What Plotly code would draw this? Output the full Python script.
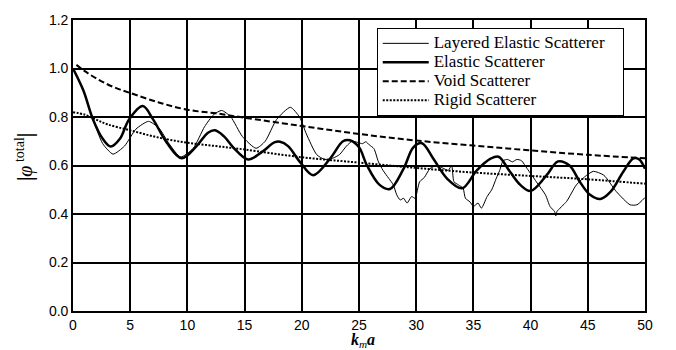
import plotly.graph_objects as go

# Normalised wave-field magnitude |phi_total| against k_m a for four scatterer types
layered_x = [0, 0.9, 1.75, 2.6, 3.5, 4.5, 5.5, 6.6, 7.5, 8.4, 9.4, 10.5, 11.5, 12.3, 13.0,
             13.8, 14.8, 16.0, 16.8, 17.8, 19.0, 19.8, 20.4, 21.3, 22.0, 22.7, 23.3, 23.9,
             24.4, 24.9, 25.3, 25.6, 25.9, 26.3, 26.7, 27.1, 27.6, 28.0, 28.3, 28.6, 28.9,
             29.2, 29.6, 29.9, 30.3, 30.7, 31.2, 31.8, 32.3, 32.8, 33.1, 33.3, 33.7, 34.1,
             34.3, 34.7, 35.0, 35.4, 35.7, 36.2, 36.6, 37.0, 37.3, 37.6, 38.0, 38.4, 38.8,
             39.2, 39.7, 40.5, 41.3, 41.7, 42.1, 42.2, 42.3, 43.15, 44.0, 44.9, 45.5, 46.4,
             47.5, 48.7, 49.3, 50]
layered_y = [1.0, 0.91, 0.79, 0.69, 0.647, 0.68, 0.75, 0.782, 0.755, 0.69, 0.635, 0.67, 0.76,
             0.81, 0.827, 0.80, 0.72, 0.671, 0.70, 0.79, 0.84, 0.80, 0.73, 0.645, 0.625, 0.63,
             0.645, 0.68, 0.70, 0.695, 0.69, 0.698, 0.685, 0.67, 0.615, 0.58, 0.547, 0.52,
             0.479, 0.458, 0.465, 0.445, 0.472, 0.465, 0.533, 0.55, 0.587, 0.60, 0.59, 0.58,
             0.60, 0.533, 0.52, 0.506, 0.465, 0.45, 0.431, 0.445, 0.424, 0.472, 0.50, 0.547,
             0.58, 0.62, 0.625, 0.615, 0.625, 0.62, 0.587, 0.533, 0.479, 0.431, 0.41, 0.392,
             0.41, 0.452, 0.52, 0.56, 0.576, 0.56, 0.492, 0.438, 0.438, 0.468]

elastic_x = [0, 0.9, 1.75, 2.6, 3.3, 4.1, 4.9, 6.1, 7.0, 8.2, 9.5, 10.8, 11.8, 12.4, 13.2,
             14.0, 15.3, 16.5, 17.6, 18.1, 18.8, 19.85, 21.0, 22.5, 23.6, 24.2, 25.0, 25.7,
             26.8, 27.7, 28.9, 29.75, 30.5, 31.5, 32.7, 34.0, 35.3, 36.5, 37.2, 38.2, 39.1,
             40.0, 41.4, 42.4, 43.4, 44.3, 45.2, 46.1, 47.0, 48.1, 49.0, 49.5, 50]
elastic_y = [1.0, 0.91, 0.79, 0.71, 0.678, 0.71, 0.79, 0.845, 0.79, 0.694, 0.630, 0.68, 0.735,
             0.745, 0.72, 0.675, 0.625, 0.655, 0.695, 0.698, 0.68, 0.614, 0.56, 0.63, 0.70,
             0.704, 0.675, 0.60, 0.52, 0.503, 0.587, 0.675, 0.692, 0.628, 0.546, 0.506, 0.58,
             0.628, 0.636, 0.574, 0.52, 0.495, 0.56, 0.617, 0.60, 0.533, 0.479, 0.462, 0.492,
             0.574, 0.63, 0.625, 0.587]

void_x = [0.3, 1, 2, 3, 4, 5, 7.5, 10, 12.5, 15, 20, 25, 30, 35, 40, 45, 50]
void_y = [1.015, 0.99, 0.96, 0.935, 0.915, 0.899, 0.86, 0.83, 0.815, 0.797, 0.763, 0.73,
          0.703, 0.682, 0.662, 0.644, 0.63]

rigid_x = [0, 1, 2, 3, 5, 7.5, 10, 12.5, 15, 20, 25, 30, 35, 40, 45, 50]
rigid_y = [0.82, 0.81, 0.79, 0.77, 0.745, 0.715, 0.694, 0.68, 0.666, 0.634, 0.612, 0.59,
           0.571, 0.557, 0.543, 0.525]

x_ticks = [0, 5, 10, 15, 20, 25, 30, 35, 40, 45, 50]
y_ticks = [0.0, 0.2, 0.4, 0.6, 0.8, 1.0, 1.2]

SERIF = "Liberation Serif, Times New Roman"


def legend_label(text, pad=0):
    # legend rows are packed tightly, so the label text is enlarged inline;
    # trailing no-break spaces widen the legend frame on the right
    return f'<span style="font-size:17px">{text}{chr(160) * pad}</span>'


fig = go.Figure()
fig.add_trace(go.Scatter(x=layered_x, y=layered_y, mode="lines",
                         name=legend_label("Layered Elastic Scatterer", pad=3),
                         line=dict(color="black", width=1, shape="spline", smoothing=0.6)))
fig.add_trace(go.Scatter(x=elastic_x, y=elastic_y, mode="lines",
                         name=legend_label("Elastic Scatterer"),
                         line=dict(color="black", width=2.5, shape="spline", smoothing=1)))
fig.add_trace(go.Scatter(x=void_x, y=void_y, mode="lines",
                         name=legend_label("Void Scatterer"),
                         line=dict(color="black", width=2, dash="6px,3px",
                                   shape="spline", smoothing=1)))
fig.add_trace(go.Scatter(x=rigid_x, y=rigid_y, mode="lines",
                         name=legend_label("Rigid Scatterer"),
                         line=dict(color="black", width=2, dash="2px,1.5px",
                                   shape="spline", smoothing=1)))

axis_font = dict(family="Liberation Sans, Arial", size=14, color="black")

fig.update_xaxes(range=[0, 50], tickvals=x_ticks, ticktext=[str(v) for v in x_ticks],
                 showgrid=True, gridcolor="black", gridwidth=1.5,
                 showline=True, linecolor="black", linewidth=1.6, mirror=True,
                 ticks="", zeroline=False, tickfont=axis_font)
fig.update_yaxes(range=[0, 1.2], tickvals=y_ticks, ticktext=[f"{v:.1f}" for v in y_ticks],
                 showgrid=True, gridcolor="black", gridwidth=1.5,
                 showline=True, linecolor="black", linewidth=1.6, mirror=True,
                 ticks="", zeroline=False, tickfont=axis_font)

fig.update_layout(
    width=676, height=350,
    margin=dict(l=73, r=31, t=16, b=39),
    paper_bgcolor="white", plot_bgcolor="white",
    showlegend=True,
    legend=dict(x=0.531, y=0.973, xanchor="left", yanchor="top",
                bgcolor="white", bordercolor="black", borderwidth=1,
                font=dict(family=SERIF, size=12, color="black"),
                itemwidth=46, tracegroupgap=0),
    annotations=[
        dict(text="<i><b>k</b><sub>m</sub><b>a</b></i>", xref="paper", yref="paper",
             x=0.507, y=-0.062, xanchor="center", yanchor="top", showarrow=False,
             font=dict(family=SERIF, size=16, color="black")),
        dict(text="<b>|</b><i>φ</i><sup> total</sup><b>|</b>", xref="paper", yref="paper",
             x=-0.0857, y=0.529, xanchor="center", yanchor="middle", showarrow=False,
             textangle=-90,
             font=dict(family=SERIF, size=20, color="black")),
    ],
)

fig.write_html("out.html")
